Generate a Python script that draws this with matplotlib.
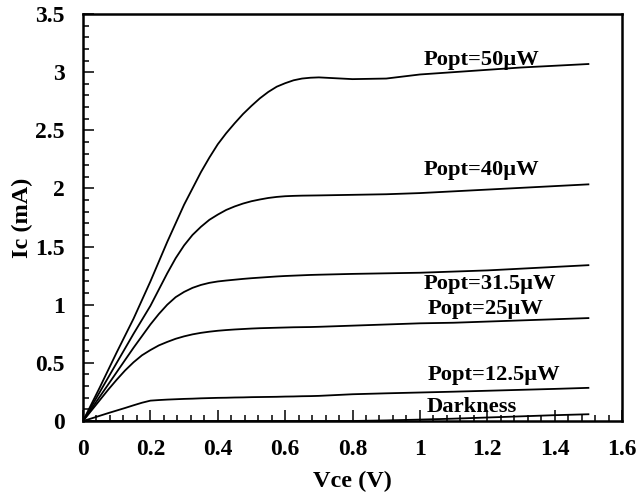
import matplotlib
matplotlib.use("Agg")
import matplotlib.pyplot as plt
from matplotlib.ticker import MultipleLocator

plt.rcParams['font.family'] = ['Liberation Serif', 'DejaVu Serif']
plt.rcParams['font.weight'] = 'bold'

vce = [0, 0.025, 0.05, 0.075, 0.1, 0.125, 0.15, 0.175, 0.2, 0.225, 0.25, 0.275,
       0.3, 0.325, 0.35, 0.375, 0.4, 0.425, 0.45, 0.475, 0.5, 0.525, 0.55, 0.575,
       0.6, 0.625, 0.65, 0.675, 0.7, 0.8, 0.9, 1.0, 1.1, 1.2, 1.3, 1.4, 1.5]
ic_50 = [0, 0.145, 0.29, 0.44, 0.59, 0.735, 0.88, 1.04, 1.2, 1.37, 1.54, 1.70,
         1.86, 2.0, 2.14, 2.265, 2.38, 2.475, 2.56, 2.64, 2.71, 2.775, 2.83, 2.875,
         2.905, 2.93, 2.945, 2.952, 2.955, 2.94, 2.945, 2.98, 3.0, 3.02, 3.04, 3.055, 3.07]
ic_40 = [0, 0.125, 0.25, 0.375, 0.5, 0.625, 0.75, 0.87, 0.99, 1.13, 1.27, 1.40,
         1.51, 1.60, 1.67, 1.73, 1.775, 1.815, 1.845, 1.87, 1.89, 1.905, 1.918, 1.927,
         1.933, 1.936, 1.938, 1.939, 1.94, 1.945, 1.95, 1.96, 1.975, 1.99, 2.005, 2.02, 2.035]
ic_315 = [0, 0.105, 0.21, 0.315, 0.42, 0.525, 0.63, 0.73, 0.83, 0.92, 1.0, 1.065,
          1.11, 1.145, 1.17, 1.188, 1.2, 1.208, 1.215, 1.222, 1.228, 1.233, 1.238, 1.243,
          1.247, 1.25, 1.253, 1.256, 1.258, 1.265, 1.27, 1.275, 1.285, 1.295, 1.31, 1.325, 1.34]
ic_25 = [0, 0.09, 0.18, 0.27, 0.355, 0.435, 0.505, 0.565, 0.61, 0.65, 0.68, 0.707,
         0.728, 0.745, 0.758, 0.768, 0.776, 0.782, 0.787, 0.791, 0.795, 0.798, 0.8, 0.802,
         0.804, 0.806, 0.807, 0.808, 0.81, 0.82, 0.83, 0.84, 0.845, 0.855, 0.865, 0.875, 0.885]
ic_125 = [0, 0.022, 0.045, 0.068, 0.09, 0.112, 0.135, 0.157, 0.175, 0.18, 0.184, 0.187,
          0.19, 0.192, 0.195, 0.197, 0.199, 0.2, 0.202, 0.203, 0.205, 0.206, 0.207, 0.208,
          0.21, 0.211, 0.213, 0.214, 0.216, 0.23, 0.238, 0.245, 0.252, 0.26, 0.268, 0.276, 0.285]
ic_dark = [0, 0, 0, 0, 0, 0, 0, 0, 0, 0, 0, 0,
           0, 0, 0, 0, 0, 0, 0, 0, 0, 0, 0, 0,
           0, 0, 0, 0, 0, 0.0, 0.005, 0.012, 0.02, 0.03, 0.04, 0.05, 0.058]

series = [ic_50, ic_40, ic_315, ic_25, ic_125, ic_dark]
labels = ["Popt=50\u00b5W", "Popt=40\u00b5W", "Popt=31.5\u00b5W", "Popt=25\u00b5W",
          "Popt=12.5\u00b5W", "Darkness"]
label_x = [1.184, 1.184, 1.208, 1.196, 1.22, 1.155]
label_y = [3.06, 2.115, 1.135, 0.917, 0.353, 0.08]

fig = plt.figure(figsize=(6.4, 5.04), dpi=100)
ax = fig.add_axes([0.1297, 0.1647, 0.972 - 0.1297, 0.9722 - 0.1647])

for ys in series:
    ax.plot(vce, ys, color='black', lw=1.3)

for t, x, y in zip(labels, label_x, label_y):
    ax.text(x, y, t, ha='center', va='baseline', fontsize=16.2, fontweight='bold')

ax.set_xlim(0, 1.6)
ax.set_ylim(0, 3.5)
ax.xaxis.set_minor_locator(MultipleLocator(0.04))
ax.yaxis.set_minor_locator(MultipleLocator(0.1))
ax.set_xticks([0, 0.2, 0.4, 0.6, 0.8, 1.0, 1.2, 1.4, 1.6])
ax.set_xticklabels(['0', '0.2', '0.4', '0.6', '0.8', '1', '1.2', '1.4', '1.6'])
ax.set_yticks([0, 0.5, 1, 1.5, 2, 2.5, 3, 3.5])
ax.set_yticklabels(['0', '0.5', '1', '1.5', '2', '2.5', '3', '3.5'])

ax.tick_params(which='both', direction='in', top=False, right=False, width=1.1)
ax.tick_params(which='major', length=8, labelsize=17)
ax.tick_params(which='minor', length=4.5)
ax.tick_params(axis='x', which='major', pad=13)
ax.tick_params(axis='y', which='major', pad=13)
for lab in ax.get_xticklabels() + ax.get_yticklabels():
    lab.set_fontweight('bold')
for s in ax.spines.values():
    s.set_linewidth(1.8)

ax.set_xlabel('Vce (V)', fontsize=17.5, fontweight='bold', labelpad=8)
ax.set_ylabel('Ic (mA)', fontsize=17.5, fontweight='bold', labelpad=2)

fig.savefig('out.png', dpi=100)
